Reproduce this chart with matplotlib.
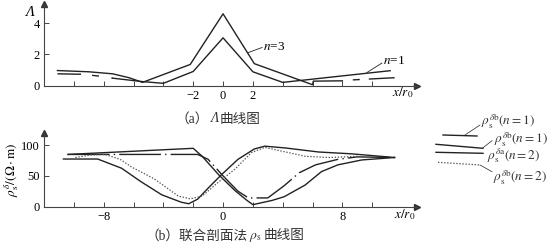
import matplotlib
matplotlib.use("Agg")
import matplotlib.pyplot as plt
from matplotlib.lines import Line2D
from matplotlib.offsetbox import TextArea, HPacker, AnnotationBbox

plt.rcParams['font.family'] = ['Liberation Serif', 'Noto Sans CJK SC']
plt.rcParams['mathtext.fontset'] = 'stix'
plt.rcParams['lines.scale_dashes'] = False

# (a) Lambda curves
n3_x = [-11.1, -9.0, -7.4, -6.3, -5.4, -2.2, 0.0, 2.1, 6.0, 6.05, 8.0]
n3_y = [0.96, 0.88, 0.75, 0.5, 0.2, 1.35, 4.6, 1.4, 0.05, 0.28, 0.3]
n3_tail_x = [8.7, 11.5]
n3_tail_y = [0.36, 0.5]
n1_head_x = [-11.1, -9.4, -8.1, -7.4]
n1_head_y = [0.75, 0.72, 0.58, 0.47]
n1_x = [-7.4, -5.4, -4.0, -2.0, 0.0, 2.0, 4.0, 11.2]
n1_y = [0.47, 0.25, 0.14, 0.9, 3.06, 0.88, 0.2, 0.95]

a_xticks = [-10, -8, -6, -4, -2, 0, 2, 4, 6, 8, 10]
a_xlabels = ['', '', '', '', '\u22122', '0', '2', '', '', '', '']
a_yticks = [0, 2, 4]

# (b) rho_s curves
b1_x = [-10.4, -2.0, -1.4, -0.3, 0.8, 1.6, 2.0, 3.3, 4.1, 5.5, 6.6, 7.7, 9.3, 11.5]
b1_y = [85, 95, 82, 52, 26, 10, 3, 10, 16, 35, 57, 68, 76, 80]
b2_x = [-10.4, -1.7, -1.0, 0.0, 1.0, 1.7, 3.0, 4.1, 5.1, 6.2, 7.7, 9.0, 11.5]
b2_y = [85, 85, 77, 50, 25, 14, 14, 34, 55, 68, 77, 81, 80]
b3_x = [-10.7, -8.4, -6.8, -5.5, -4.1, -2.8, -2.3, -1.7, -1.0, -0.1, 1.0, 2.1, 2.8,
        4.2, 6.4, 8.6, 11.5]
b3_y = [77.5, 77.5, 62.5, 40.5, 19, 7, 4.5, 12, 30, 52, 77, 94, 98.5, 95.5, 89, 86, 80]
b4_x = [-9.9, -8.9, -7.9, -6.9, -6.1, -4.6, -3.0, -2.2, -1.4, -0.3, 0.8, 1.9, 2.8,
        4.2, 5.5, 7.1, 9.1]
b4_y = [80, 84, 85, 77, 64, 45, 17, 12.5, 17, 40, 61, 88, 96.5, 89, 82, 80, 82]

b_xticks = [-10, -8, -6, -4, -2, 0, 2, 4, 6, 8, 10]
b_xlabels = ['', '\u22128', '', '', '', '0', '', '', '', '8', '']
b_yticks = [0, 50, 100]

legend_labels = [r'$\rho_\mathrm{s}^{\delta\mathrm{b}}(n=1)$',
                 r'$\rho_\mathrm{s}^{\delta\mathrm{b}}(n=1)$',
                 r'$\rho_\mathrm{s}^{\delta\mathrm{a}}(n=2)$',
                 r'$\rho_\mathrm{s}^{\delta\mathrm{b}}(n=2)$']

W, H = 557, 248
ink = '#222222'


def px(x, y):
    return x / W, 1 - y / H


fig = plt.figure(figsize=(5.57, 2.48), dpi=100)
ax1 = fig.add_axes([44 / W, 1 - 85.5 / H, 373 / W, 81.5 / H])
ax2 = fig.add_axes([44 / W, 1 - 206.5 / H, 373 / W, 73.5 / H])

for ax in (ax1, ax2):
    ax.spines['top'].set_visible(False)
    ax.spines['right'].set_visible(False)
    for s in ('left', 'bottom'):
        ax.spines[s].set_color('#444444')
        ax.spines[s].set_linewidth(0.8)
    ax.tick_params(direction='in', length=3.5, width=0.7, color='#444444',
                   labelsize=9, pad=3)
    ax.set_xlim(-12.0, 13.0)
    ax.plot(1, 0, marker='>', color='#333333', markersize=4.5,
            transform=ax.transAxes, clip_on=False)
    ax.plot(0, 1, marker='^', color='#333333', markersize=4.5,
            transform=ax.transAxes, clip_on=False)
    ax.patch.set_alpha(0)

# top panel
ax1.plot(n3_x, n3_y, color=ink, lw=1.0)
ax1.plot(n3_tail_x, n3_tail_y, color=ink, lw=1.0, dashes=(5, 6.5, 25, 0))
ax1.plot(n1_head_x, n1_head_y, color=ink, lw=1.0, dashes=(17, 8, 5, 9))
ax1.plot(n1_x, n1_y, color=ink, lw=1.0)
ax1.set_ylim(0, 5.23)
ax1.set_xticks(a_xticks)
ax1.set_xticklabels(a_xlabels)
ax1.set_yticks(a_yticks)
ax1.plot([1.68, 2.62], [2.11, 2.44], color=ink, lw=0.6)
ax1.text(2.65, 2.5, r'$n$=3', fontsize=9.5, va='center', ha='left')
ax1.plot([9.64, 10.65], [0.83, 1.44], color=ink, lw=0.6)
ax1.text(10.7, 1.55, r'$n$=1', fontsize=9.5, va='center', ha='left')

# bottom panel
ax2.plot(b1_x, b1_y, color=ink, lw=1.0)
ax2.plot(b2_x, b2_y, color=ink, lw=1.0, dashes=(30, 3, 1, 3))
ax2.plot(b3_x, b3_y, color=ink, lw=1.0)
ax2.plot(b4_x, b4_y, color='#555555', lw=0.9, dashes=(1, 1.2))
ax2.set_ylim(0, 120)
ax2.set_xticks(b_xticks)
ax2.set_xticklabels(b_xlabels)
ax2.set_yticks(b_yticks)

# axis titles
fig.text(*px(30, 12.5), 'Λ', fontsize=10.5, style='italic', ha='center', va='center')
fig.text(*px(403, 93), r'$x/r_0$', fontsize=9.5, ha='center', va='center')
fig.text(*px(405, 215), r'$x/r_0$', fontsize=9.5, ha='center', va='center')
fig.text(*px(12, 170), r'$\rho_\mathrm{s}^{\delta}/(\Omega\cdot\mathrm{m})$',
         fontsize=9.5, rotation=90, ha='center', va='center')


# captions
def caption(parts, xy):
    boxes = []
    for p in parts:
        props = dict(size=9.8, color='#333333')
        if p == 'Λ':
            props['style'] = 'italic'
        boxes.append(TextArea(p, textprops=props))
    pack = HPacker(children=boxes, align='baseline', pad=0, sep=1)
    ab = AnnotationBbox(pack, px(*xy), xycoords='figure fraction', frameon=False,
                        box_alignment=(0.5, 0.5))
    fig.add_artist(ab)


caption(['（a）', 'Λ', '曲线图'], (218, 119))
caption(['（b）联合剖面法', r'$\rho_\mathrm{s}$', '曲线图'], (225, 237))

# legend on the right
leg_lines = [((443, 135), (477, 136), None),
             ((436, 144.3), (483, 148.3), None),
             ((436, 152.3), (483, 153.3), None),
             ((438, 162.3), (480, 165), (1, 1.2))]
for (p0, p1, d) in leg_lines:
    a, b = px(*p0), px(*p1)
    ln = Line2D([a[0], b[0]], [a[1], b[1]], color=ink if d is None else '#555555',
                lw=1.0 if d is None else 0.9, transform=fig.transFigure)
    if d is not None:
        ln.set_dashes(d)
    fig.add_artist(ln)

leaders = [((465, 135), (480, 125)), ((483, 147.7), (492, 140.7)),
           ((480, 165), (492, 171.7))]
for p0, p1 in leaders:
    a, b = px(*p0), px(*p1)
    fig.add_artist(Line2D([a[0], b[0]], [a[1], b[1]], color=ink, lw=0.5,
                          transform=fig.transFigure))

leg_pos = [(481, 121), (494, 139), (487, 156), (493, 177)]
for lab, pos in zip(legend_labels, leg_pos):
    fig.text(*px(*pos), lab, fontsize=9.5, ha='left', va='center', color='#333333')

fig.savefig('out.png', dpi=100)
